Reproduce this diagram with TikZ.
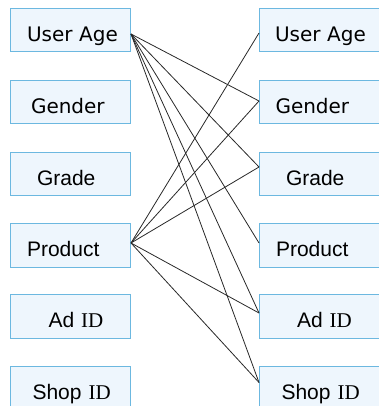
\documentclass[tikz,border=0pt]{standalone}
\usepackage{fontspec}
\setmainfont{Liberation Sans}
\newfontfamily\dvsans{DejaVu Sans}
\newfontfamily\tmserif{Liberation Serif}
\definecolor{boxfill}{RGB}{238,246,253}
\definecolor{boxline}{RGB}{108,184,224}
\definecolor{wirecol}{RGB}{40,40,40}
\newcommand\idtext{{\tmserif ID}}
\begin{document}
\begin{tikzpicture}[x=1pt,y=-1pt,
  field/.style={draw=boxline, fill=boxfill, line width=1pt, anchor=north west,
    inner sep=0pt, text width=120pt, align=left,
    text height=33pt, text depth=10.5pt, font=\fontsize{21}{24}\selectfont},
  dv/.style={font=\dvsans\fontsize{20}{24}\selectfont},
  wire/.style={draw=wirecol, line width=0.8pt}]
\useasboundingbox (0,0) rectangle (379,406);

% left column
\node[field,dv] (l1) at (10,8)     {\noindent\hspace*{16.5pt}User Age};
\node[field,dv] (l2) at (10,80)    {\noindent\hspace*{20.5pt}Gender};
\node[field]    (l3) at (10,151.5) {\noindent\hspace*{26.5pt}Grade};
\node[field]    (l4) at (10,223)   {\noindent\hspace*{16.5pt}Product};
\node[field]    (l5) at (10,294)   {\noindent\hspace*{38pt}Ad \idtext};
\node[field]    (l6) at (10,365.5) {\noindent\hspace*{22pt}Shop \idtext};

% right column
\node[field,dv] (r1) at (259,8)     {\noindent\hspace*{15.5pt}User Age};
\node[field,dv] (r2) at (259,80)    {\noindent\hspace*{16pt}Gender};
\node[field]    (r3) at (259,151.5) {\noindent\hspace*{26.5pt}Grade};
\node[field]    (r4) at (259,223)   {\noindent\hspace*{16.5pt}Product};
\node[field]    (r5) at (259,294)   {\noindent\hspace*{37.5pt}Ad \idtext};
\node[field]    (r6) at (259,365.5) {\noindent\hspace*{22pt}Shop \idtext};

% links from User Age
\draw[wire] ([yshift=-26pt]l1.north east) -- ([yshift=-21pt]r2.north west);
\draw[wire] ([yshift=-26pt]l1.north east) -- ([yshift=-15.5pt]r3.north west);
\draw[wire] ([yshift=-26pt]l1.north east) -- ([yshift=-20pt]r4.north west);
\draw[wire] ([yshift=-26pt]l1.north east) -- ([yshift=-19pt]r5.north west);
\draw[wire] ([yshift=-26pt]l1.north east) -- ([yshift=-17pt]r6.north west);

% links from Product
\draw[wire] ([yshift=-20pt]l4.north east) -- ([yshift=-25pt]r1.north west);
\draw[wire] ([yshift=-20pt]l4.north east) -- ([yshift=-21pt]r2.north west);
\draw[wire] ([yshift=-20pt]l4.north east) -- ([yshift=-15.5pt]r3.north west);
\draw[wire] ([yshift=-20pt]l4.north east) -- ([yshift=-19pt]r5.north west);
\draw[wire] ([yshift=-20pt]l4.north east) -- ([yshift=-17pt]r6.north west);
\end{tikzpicture}
\end{document}
